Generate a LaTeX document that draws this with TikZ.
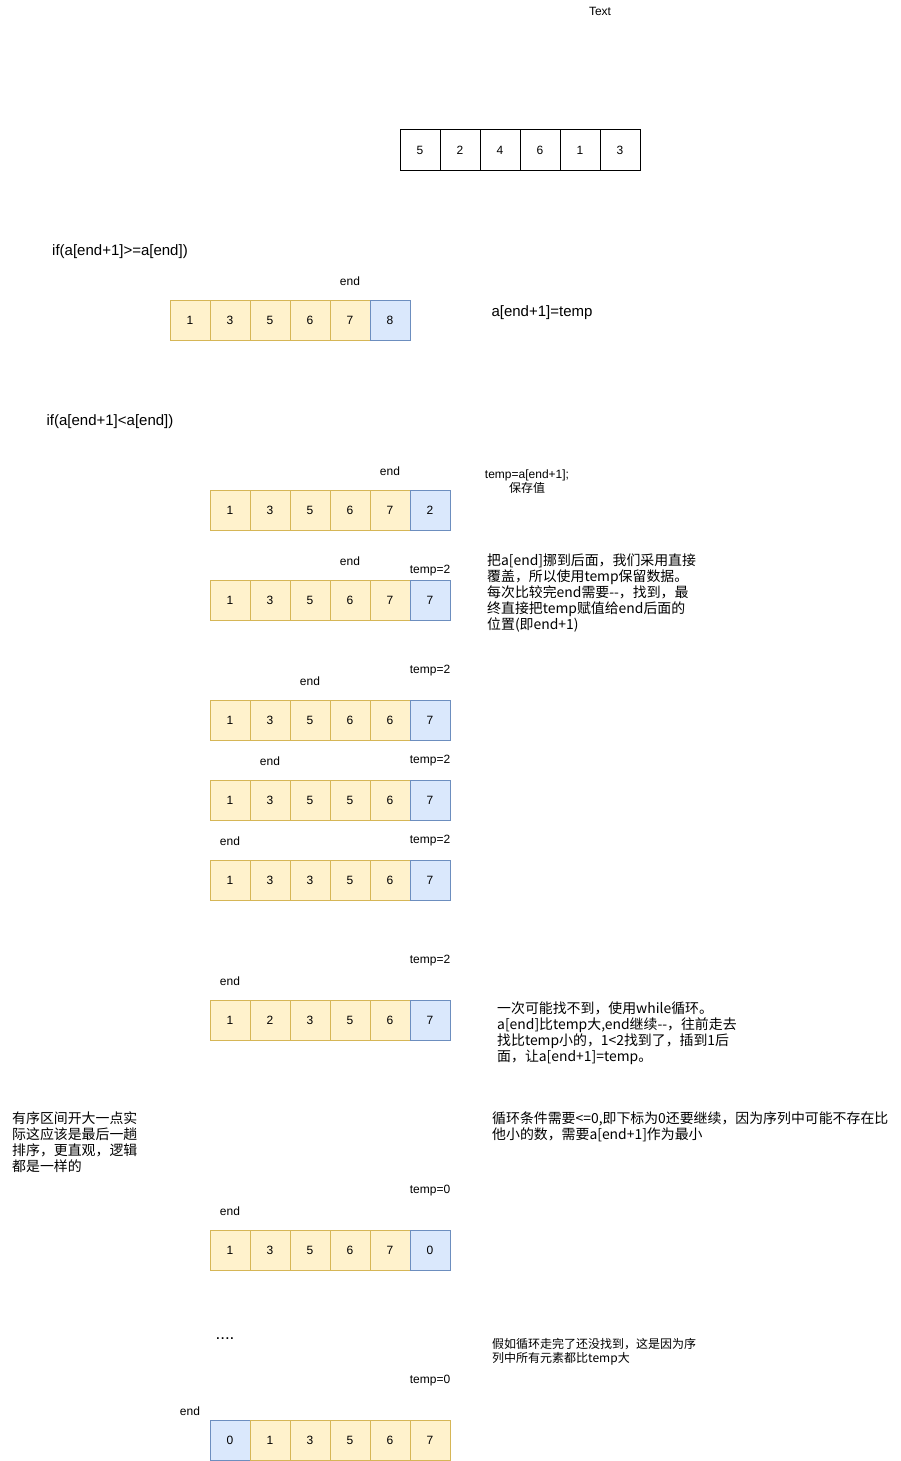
\documentclass[tikz,border=0pt]{standalone}
\usepackage{fontspec}
\setmainfont{Liberation Sans}
\newfontfamily\cjk{Noto Sans CJK SC}
\definecolor{myyellow}{RGB}{255,242,204}
\definecolor{mygold}{RGB}{214,182,86}
\definecolor{myblue}{RGB}{218,232,252}
\definecolor{mysteel}{RGB}{108,142,191}

\begin{document}
\begin{tikzpicture}[x=1pt,y=-1pt,
    cell/.style={draw,minimum size=40pt,inner sep=0pt,line width=1pt,font=\fontsize{12}{14}\selectfont},
    plain/.style={cell,fill=white,draw=black},
    sorted/.style={cell,fill=myyellow,draw=mygold},
    newval/.style={cell,fill=myblue,draw=mysteel},
    tag/.style={font=\fontsize{12}{14}\selectfont,inner sep=0pt,yshift=-1pt},
    cond/.style={font=\fontsize{15}{17}\selectfont,inner sep=0pt},
    note/.style={font=\cjk\fontsize{13.9}{16}\selectfont,align=left,anchor=north west,inner sep=0pt}]
  \useasboundingbox (0,0) rectangle (901,1461);
  \node[tag] (title) at (600,10) {Text};
  % initial array
  \foreach \v [count=\i] in {5,2,4,6,1,3}
    \node[plain] (a\i) at ({380+40*\i},150) {\v};
  % case a[end+1]>=a[end]
  \node[cond] (condge) at (120,252) {if(a[end+1]>=a[end])};
  \foreach \v [count=\i] in {1,3,5,6,7}
    \node[sorted] (b\i) at ({150+40*\i},320) {\v};
  \node[newval] (b6) at (390,320) {8};
  \node[tag] (bend) at (350,280) {end};
  \node[cond] (assign) at (542,313) {a[end+1]=temp};
  % case a[end+1]<a[end]
  \node[cond] (condlt) at (110,422) {if(a[end+1]<a[end])};
  \foreach \v [count=\i] in {1,3,5,6,7}
    \node[sorted] (c\i) at ({190+40*\i},510) {\v};
  \node[newval] (c6) at (430,510) {2};
  \node[tag] (cend) at (390,470) {end};
  \node[tag,align=center] (save) at (527,481) {temp=a[end+1];\\{\cjk 保存值}};
  \foreach \v [count=\i] in {1,3,5,6,7}
    \node[sorted] (d\i) at ({190+40*\i},600) {\v};
  \node[newval] (d6) at (430,600) {7};
  \node[tag] (dend) at (350,560) {end};
  \node[tag] (dtemp) at (430,570) {temp=2};
  \node[note] (move) at (487,554) {把a[end]挪到后面，我们采用直接\\覆盖，所以使用temp保留数据。\\每次比较完end需要-{}-，找到，最\\终直接把temp赋值给end后面的\\位置(即end+1)};
  \foreach \v [count=\i] in {1,3,5,6,6}
    \node[sorted] (e\i) at ({190+40*\i},720) {\v};
  \node[newval] (e6) at (430,720) {7};
  \node[tag] (eend) at (310,680) {end};
  \node[tag] (etemp) at (430,670) {temp=2};
  \foreach \v [count=\i] in {1,3,5,5,6}
    \node[sorted] (f\i) at ({190+40*\i},800) {\v};
  \node[newval] (f6) at (430,800) {7};
  \node[tag] (fend) at (270,760) {end};
  \node[tag] (ftemp) at (430,760) {temp=2};
  \foreach \v [count=\i] in {1,3,3,5,6}
    \node[sorted] (g\i) at ({190+40*\i},880) {\v};
  \node[newval] (g6) at (430,880) {7};
  \node[tag] (gend) at (230,840) {end};
  \node[tag] (gtemp) at (430,840) {temp=2};
  \foreach \v [count=\i] in {1,2,3,5,6}
    \node[sorted] (h\i) at ({190+40*\i},1020) {\v};
  \node[newval] (h6) at (430,1020) {7};
  \node[tag] (hend) at (230,980) {end};
  \node[tag] (htemp) at (430,960) {temp=2};
  \node[note] (loop) at (497,1002) {一次可能找不到，使用while循环。\\a[end]比temp大,end继续-{}-，往前走去\\找比temp小的，1<2找到了，插到1后\\面，让a[end+1]=temp。};
  % end runs past the front
  \node[note] (wider) at (12,1112) {有序区间开大一点实\\际这应该是最后一趟\\排序，更直观，逻辑\\都是一样的};
  \node[note] (bound) at (492,1112) {循环条件需要<=0,即下标为0还要继续，因为序列中可能不存在比\\他小的数，需要a[end+1]作为最小};
  \foreach \v [count=\i] in {1,3,5,6,7}
    \node[sorted] (i\i) at ({190+40*\i},1250) {\v};
  \node[newval] (i6) at (430,1250) {0};
  \node[tag] (iend) at (230,1210) {end};
  \node[tag] (itemp) at (430,1190) {temp=0};
  \node[font=\fontsize{17}{19}\selectfont,inner sep=0pt] (dots) at (225,1339) {....};
  \node[note,font=\cjk\fontsize{12}{14}\selectfont] (notfound) at (492,1338) {假如循环走完了还没找到，这是因为序\\列中所有元素都比temp大};
  \node[newval] (j1) at (230,1440) {0};
  \foreach \v [count=\i from 2] in {1,3,5,6,7}
    \node[sorted] (j\i) at ({190+40*\i},1440) {\v};
  \node[tag] (jend) at (190,1410) {end};
  \node[tag] (jtemp) at (430,1380) {temp=0};
\end{tikzpicture}
\end{document}
